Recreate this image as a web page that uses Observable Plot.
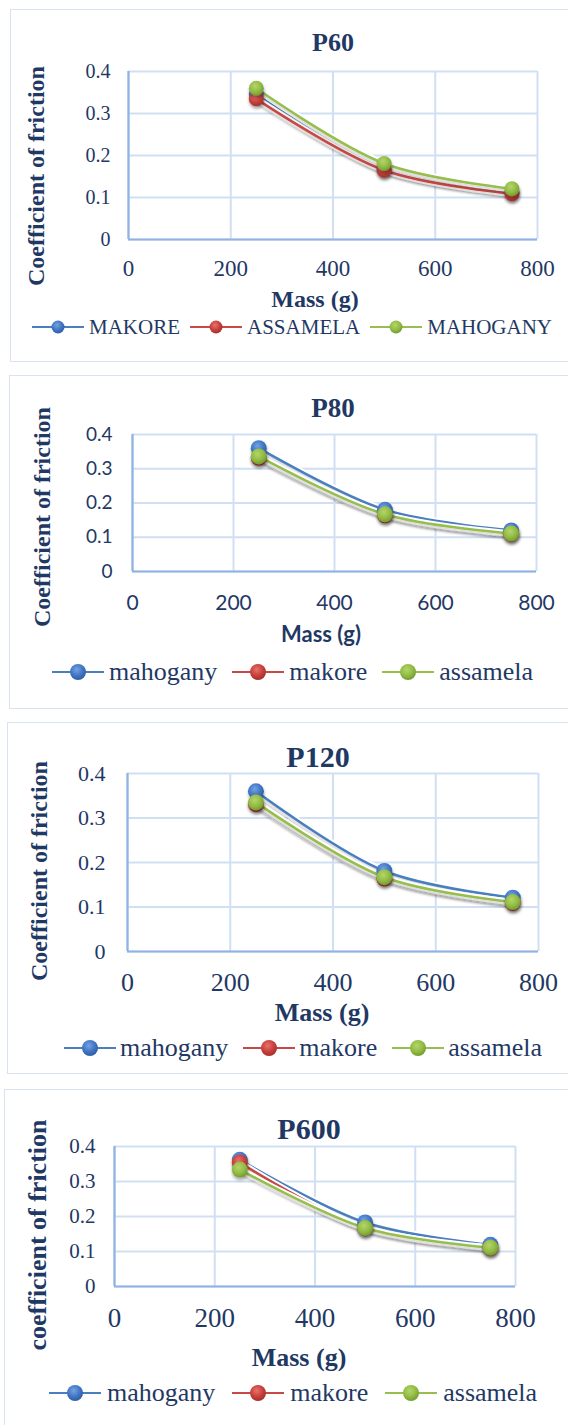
<!DOCTYPE html>
<html>
<head>
<meta charset="utf-8">
<script src="https://cdn.jsdelivr.net/npm/d3@7"></script>
<script src="https://cdn.jsdelivr.net/npm/@observablehq/plot@0.6"></script>
<style>
  html, body { margin: 0; padding: 0; background: #fff; }
  body { width: 568px; height: 1425px; overflow: hidden; position: relative; }
  .panel { position: absolute; border: 1.5px solid #d9e3f0; box-sizing: border-box; width: 640px; }
  .plotsvg { position: absolute; left: 0; }
  .legend { position: absolute; display: flex; align-items: center; white-space: nowrap; }
  .legend span { color: #1f3864; line-height: 24px; }
</style>
</head>
<body>
<svg width="0" height="0" style="position:absolute">
  <defs>
    <radialGradient id="grad0" cx="0.42" cy="0.35" r="0.7">
      <stop offset="0" stop-color="#74a3e3"/><stop offset="0.55" stop-color="#4176c4"/><stop offset="1" stop-color="#2c5a9c"/>
    </radialGradient>
    <radialGradient id="grad1" cx="0.42" cy="0.35" r="0.7">
      <stop offset="0" stop-color="#e8726e"/><stop offset="0.55" stop-color="#c8403b"/><stop offset="1" stop-color="#9c2d2a"/>
    </radialGradient>
    <radialGradient id="grad2" cx="0.42" cy="0.35" r="0.7">
      <stop offset="0" stop-color="#b5d56a"/><stop offset="0.55" stop-color="#92bc45"/><stop offset="1" stop-color="#6e952c"/>
    </radialGradient>
    <filter id="shadow" x="-20%" y="-20%" width="140%" height="160%">
      <feDropShadow dx="0.5" dy="2.5" stdDeviation="1.6" flood-color="#000" flood-opacity="0.35"/>
    </filter>
    <filter id="lshadow" x="-10%" y="-10%" width="120%" height="130%">
      <feDropShadow dx="0" dy="2" stdDeviation="1.2" flood-color="#000" flood-opacity="0.18"/>
    </filter>
  </defs>
</svg>
<script>
// ---------------- data ----------------
const massG = [250, 500, 750];
const xTickValues = [0, 200, 400, 600, 800];
const yTickValues = [0, 0.1, 0.2, 0.3, 0.4];
const seriesColors = ["#4a7ebf", "#c74a46", "#97be4e"];

const p60Title = "P60";
const p60Names = ["MAKORE", "ASSAMELA", "MAHOGANY"];
const p60Makore = [0.345, 0.167, 0.112];
const p60Assamela = [0.335, 0.165, 0.109];
const p60Mahogany = [0.36, 0.181, 0.121];

const p80Title = "P80";
const p80Names = ["mahogany", "makore", "assamela"];
const p80Mahogany = [0.36, 0.18, 0.12];
const p80Makore = [0.332, 0.164, 0.109];
const p80Assamela = [0.336, 0.167, 0.111];

const p120Title = "P120";
const p120Names = ["mahogany", "makore", "assamela"];
const p120Mahogany = [0.36, 0.181, 0.121];
const p120Makore = [0.331, 0.164, 0.109];
const p120Assamela = [0.335, 0.167, 0.111];

const p600Title = "P600";
const p600Names = ["mahogany", "makore", "assamela"];
const p600Mahogany = [0.362, 0.183, 0.119];
const p600Makore = [0.354, 0.166, 0.11];
const p600Assamela = [0.334, 0.167, 0.111];

const xTitle = "Mass (g)";
const yTitles = ["Coefficient of friction", "Coefficient of friction", "Coefficient of friction", "coefficient of friction"];

// ---------------- styling / layout ----------------
const SERIF = "'Liberation Serif', 'Times New Roman', serif";
const SANS = "Lato, 'Liberation Sans', sans-serif";
const textColor = "#1f3864";
const gridColor = "#d0dff2";
const axisColor = "#8fb4e3";

const layouts = [
  { frame: {l: 128, r: 537, t: 71, b: 239}, border: {x: 10, y: 9, h: 353},
    title: {x: 333, base: 52, size: 26},
    yTick: {size: 20, pad: 18, fam: SERIF}, xTick: {size: 23, pad: 20, fam: SERIF},
    xTitle: {x: 315, base: 307, size: 24, fam: SERIF},
    yTitle: {cx: 36, cy: 176, size: 24},
    legend: {x: 32, y: 327, r: 6.5, size: 21, gap: 10, textGap: 5},
    dotR: 7.5 },
  { frame: {l: 132, r: 536, t: 434, b: 571}, border: {x: 9, y: 375, h: 334},
    title: {x: 333, base: 418, size: 27},
    yTick: {size: 19, pad: 20, fam: SANS}, xTick: {size: 21, pad: 24, fam: SANS},
    xTitle: {x: 321, base: 643, size: 22, fam: SANS},
    yTitle: {cx: 42, cy: 517, size: 24},
    legend: {x: 52, y: 672, r: 8, size: 26, gap: 15, textGap: 5},
    dotR: 8 },
  { frame: {l: 127, r: 538, t: 773, b: 951}, border: {x: 7, y: 722, h: 352},
    title: {x: 318, base: 767, size: 30},
    yTick: {size: 22, pad: 22, fam: SERIF}, xTick: {size: 26, pad: 21, fam: SERIF},
    xTitle: {x: 322, base: 1022, size: 26, fam: SERIF},
    yTitle: {cx: 39, cy: 871, size: 24},
    legend: {x: 64, y: 1048, r: 8, size: 26, gap: 15, textGap: 4},
    dotR: 8 },
  { frame: {l: 114, r: 515, t: 1146, b: 1286}, border: {x: 4, y: 1089, h: 400},
    title: {x: 309, base: 1139, size: 30},
    yTick: {size: 21, pad: 19, fam: SERIF}, xTick: {size: 27, pad: 21, fam: SERIF},
    xTitle: {x: 299, base: 1367, size: 26, fam: SERIF},
    yTitle: {cx: 38, cy: 1235, size: 26},
    legend: {x: 49, y: 1393, r: 8, size: 26, gap: 17, textGap: 6},
    dotR: 8 }
];

const panels = [
  {title: p60Title, names: p60Names, values: [p60Makore, p60Assamela, p60Mahogany]},
  {title: p80Title, names: p80Names, values: [p80Mahogany, p80Makore, p80Assamela]},
  {title: p120Title, names: p120Names, values: [p120Mahogany, p120Makore, p120Assamela]},
  {title: p600Title, names: p600Names, values: [p600Mahogany, p600Makore, p600Assamela]}
];

function baseOffset(fam) { return fam === SANS ? 0.887 : 0.8375; }

function addText(str, x, base, size, fam, weight) {
  const d = document.createElement("div");
  d.textContent = str;
  d.style.cssText = `position:absolute;left:${x}px;top:${base - baseOffset(fam) * size}px;` +
    `font-family:${fam};font-size:${size}px;font-weight:${weight};line-height:1;color:${textColor};` +
    `white-space:nowrap;transform:translateX(-50%);`;
  document.body.appendChild(d);
}

function addRotated(str, cx, cy, size) {
  const d = document.createElement("div");
  d.textContent = str;
  d.style.cssText = `position:absolute;left:${cx}px;top:${cy}px;font-family:${SERIF};font-size:${size}px;` +
    `font-weight:bold;line-height:1;color:${textColor};white-space:nowrap;` +
    `transform:translate(-50%,-50%) rotate(-90deg);`;
  document.body.appendChild(d);
}

function addLegend(names, L) {
  const box = document.createElement("div");
  box.className = "legend";
  box.style.left = L.x + "px";
  box.style.top = (L.y - 12) + "px";
  names.forEach((n, i) => {
    const ns = "http://www.w3.org/2000/svg";
    const s = document.createElementNS(ns, "svg");
    s.setAttribute("width", 52); s.setAttribute("height", 24);
    s.style.overflow = "visible";
    s.style.marginLeft = (i === 0 ? 0 : L.gap) + "px";
    s.innerHTML = `<line x1="0" x2="52" y1="12" y2="12" stroke="${seriesColors[i]}" stroke-width="2"/>` +
      `<circle cx="26" cy="12" r="${L.r}" fill="url(#grad${i})"/>`;
    box.appendChild(s);
    const t = document.createElement("span");
    t.textContent = n;
    t.style.fontFamily = SERIF;
    t.style.fontSize = L.size + "px";
    t.style.marginLeft = L.textGap + "px";
    box.appendChild(t);
  });
  document.body.appendChild(box);
}

panels.forEach((p, k) => {
  const L = layouts[k];
  const f = L.frame;

  const border = document.createElement("div");
  border.className = "panel";
  border.style.left = L.border.x + "px";
  border.style.top = L.border.y + "px";
  border.style.height = L.border.h + "px";
  document.body.appendChild(border);

  const rows = [];
  p.names.forEach((n, i) => massG.forEach((m, j) => rows.push({name: n, s: i, mass: m, cof: p.values[i][j]})));

  const mt = 12, mb = 60;
  const svg = Plot.plot({
    width: 568,
    height: (f.b - f.t) + mt + mb,
    marginLeft: f.l, marginRight: 568 - f.r, marginTop: mt, marginBottom: mb,
    style: {background: "transparent", overflow: "visible"},
    x: {domain: [0, 800], label: null},
    y: {domain: [0, 0.4], label: null},
    marks: [
      Plot.gridX(xTickValues, {stroke: gridColor, strokeOpacity: 1, strokeWidth: 2}),
      Plot.gridY(yTickValues, {stroke: gridColor, strokeOpacity: 1, strokeWidth: 2}),
      Plot.ruleX([0], {stroke: axisColor, strokeWidth: 2.2}),
      Plot.ruleY([0], {stroke: axisColor, strokeWidth: 2.2}),
      Plot.axisX(xTickValues, {tickSize: 0, tickPadding: L.xTick.pad, fontSize: L.xTick.size,
        fontFamily: L.xTick.fam, color: textColor, label: null, tickFormat: d => String(d)}),
      Plot.axisY(yTickValues, {tickSize: 0, tickPadding: L.yTick.pad, fontSize: L.yTick.size,
        fontFamily: L.yTick.fam, color: textColor, label: null, tickFormat: d => String(d)}),
      ...p.names.flatMap((n, i) => [
        Plot.line(rows, {filter: d => d.s === i, x: "mass", y: "cof", stroke: "white", strokeWidth: 6.5, curve: "catmull-rom"}),
        Plot.line(rows, {filter: d => d.s === i, x: "mass", y: "cof", stroke: seriesColors[i], strokeWidth: 2.6, curve: "catmull-rom"})
      ]),
      ...p.names.map((n, i) =>
        Plot.dot(rows, {filter: d => d.s === i, x: "mass", y: "cof", r: L.dotR, fill: `url(#grad${i})`, stroke: "none"}))
    ]
  });
  svg.classList.add("plotsvg");
  svg.style.position = "absolute";
  svg.style.left = "0px";
  svg.style.top = (f.t - mt) + "px";
  d3.select(svg).selectAll('g[aria-label="dot"]').attr("filter", "url(#shadow)");
  d3.select(svg).selectAll('g[aria-label="line"]').attr("filter", "url(#lshadow)");
  document.body.appendChild(svg);

  addText(p.title, L.title.x, L.title.base, L.title.size, SERIF, "bold");
  addText(xTitle, L.xTitle.x, L.xTitle.base, L.xTitle.size, L.xTitle.fam, "bold");
  addRotated(yTitles[k], L.yTitle.cx, L.yTitle.cy, L.yTitle.size);
  addLegend(p.names, L.legend);
});
</script>
</body>
</html>
